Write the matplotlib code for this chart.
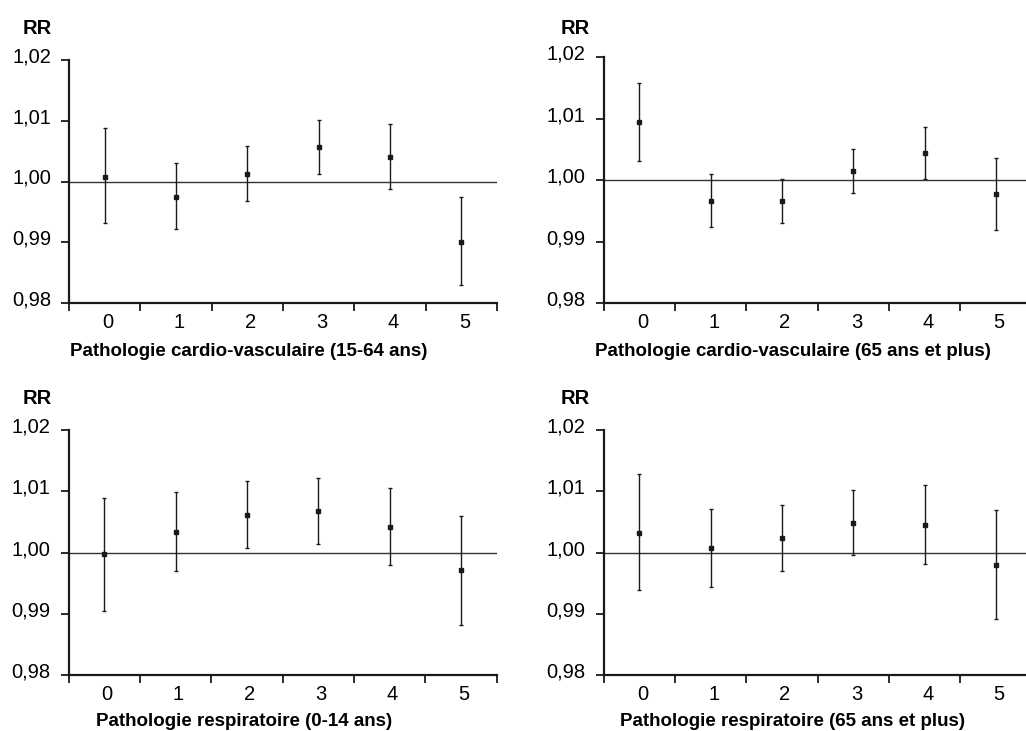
import matplotlib
matplotlib.use('Agg')
import matplotlib.pyplot as plt
from matplotlib.transforms import ScaledTranslation

# Helvetica-like font, DejaVu as fallback
plt.rcParams['font.family'] = ['Liberation Sans', 'DejaVu Sans']

# Lags (days) and axis ticks
lags = [0, 1, 2, 3, 4, 5]
lag_labels = ['0', '1', '2', '3', '4', '5']
rr_ticks = [0.98, 0.99, 1.00, 1.01, 1.02]
rr_tick_labels = ['0,98', '0,99', '1,00', '1,01', '1,02']

# Cardio-vasculaire 15-64 ans
cv_adult_rr = [1.0008, 0.9975, 1.0013, 1.0056, 1.0040, 0.9901]
cv_adult_low = [0.9932, 0.9922, 0.9968, 1.0012, 0.9988, 0.9829]
cv_adult_high = [1.0088, 1.0030, 1.0059, 1.0102, 1.0095, 0.9975]

# Cardio-vasculaire 65 ans et plus
cv_old_rr = [1.0094, 0.9967, 0.9966, 1.0015, 1.0044, 0.9978]
cv_old_low = [1.0031, 0.9924, 0.9930, 0.9980, 1.0002, 0.9920]
cv_old_high = [1.0158, 1.0011, 1.0002, 1.0051, 1.0086, 1.0037]

# Respiratoire 0-14 ans
resp_child_rr = [0.9998, 1.0033, 1.0061, 1.0068, 1.0041, 0.9971]
resp_child_low = [0.9905, 0.9970, 1.0007, 1.0014, 0.9979, 0.9882]
resp_child_high = [1.0089, 1.0098, 1.0116, 1.0121, 1.0106, 1.0059]

# Respiratoire 65 ans et plus
resp_old_rr = [1.0032, 1.0007, 1.0024, 1.0048, 1.0045, 0.9980]
resp_old_low = [0.9938, 0.9943, 0.9970, 0.9996, 0.9982, 0.9891]
resp_old_high = [1.0128, 1.0071, 1.0078, 1.0102, 1.0110, 1.0069]

W, H = 1026, 731
fig = plt.figure(figsize=(W / 100, H / 100), dpi=100)

ink = '#1a1a1a'


def px_rect(left, top, right, bottom):
    # convert pixel box to figure fractions
    return [left / W, 1 - bottom / H, (right - left) / W, (bottom - top) / H]


def draw_panel(box, rr, low, high, label, label_xy, rr_xy):
    ax = fig.add_axes(px_rect(*box))
    err = [[r - l for r, l in zip(rr, low)], [h - r for r, h in zip(rr, high)]]
    ax.axhline(1.0, color='#333333', lw=1.0, zorder=1)
    ax.errorbar(lags, rr, yerr=err, fmt='s', color=ink, ms=3.5,
                elinewidth=1.0, capsize=1.5, capthick=1.0, zorder=2)

    ax.set_xlim(-0.5, 5.5)
    ax.set_ylim(0.98, 1.02)
    ax.set_yticks(rr_ticks)
    ax.set_yticklabels(rr_tick_labels)
    ax.set_xticks(lags)
    ax.set_xticklabels(lag_labels)
    ax.set_xticks([i - 0.5 for i in range(7)], minor=True)

    ax.tick_params(axis='x', which='major', length=0, pad=7, labelsize=14.5)
    ax.tick_params(axis='x', which='minor', length=6, width=1.3, color=ink)
    ax.tick_params(axis='y', length=6, width=1.3, color=ink, pad=7, labelsize=14.5)

    for side in ['top', 'right']:
        ax.spines[side].set_visible(False)
    for side in ['left', 'bottom']:
        ax.spines[side].set_linewidth(1.6)
        ax.spines[side].set_color(ink)

    # labels sit a little above the ticks / right of the centres
    up = ScaledTranslation(0, 0.05, fig.dpi_scale_trans)
    right = ScaledTranslation(0.03, 0, fig.dpi_scale_trans)
    for lbl in ax.get_yticklabels():
        lbl.set_transform(lbl.get_transform() + up)
    for lbl in ax.get_xticklabels():
        lbl.set_transform(lbl.get_transform() + right)

    fig.text(label_xy[0] / W, 1 - label_xy[1] / H, label, ha='center', va='center',
             fontsize=13.5, fontweight='bold')
    fig.text(rr_xy[0] / W, 1 - rr_xy[1] / H, 'RR', ha='right', va='center',
             fontsize=14.5, fontweight='bold')
    return ax


draw_panel((69, 60, 497, 303), cv_adult_rr, cv_adult_low, cv_adult_high,
           'Pathologie cardio-vasculaire (15-64 ans)', (249, 352), (52, 28))
draw_panel((603.7, 57.3, 1031.7, 303.3), cv_old_rr, cv_old_low, cv_old_high,
           'Pathologie cardio-vasculaire (65 ans et plus)', (793, 352), (590, 28))
draw_panel((68.5, 430, 496.5, 675), resp_child_rr, resp_child_low, resp_child_high,
           'Pathologie respiratoire (0-14 ans)', (244, 721), (52, 398))
draw_panel((603.7, 430, 1031.7, 675), resp_old_rr, resp_old_low, resp_old_high,
           'Pathologie respiratoire (65 ans et plus)', (793, 721), (590, 398))

fig.savefig('out.png', dpi=100)
